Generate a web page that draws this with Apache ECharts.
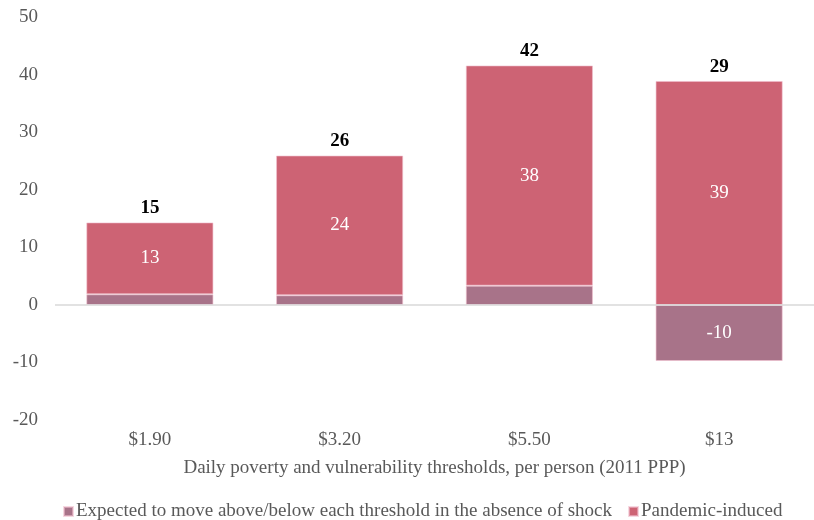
<!DOCTYPE html>
<html><head><meta charset="utf-8">
<script src="https://cdn.jsdelivr.net/npm/echarts@6/dist/echarts.min.js"></script>
<style>html,body{margin:0;padding:0;background:#fff}#c{width:814px;height:520px}</style>
</head><body><div id="c"></div>
<script>
const categories = ['$1.90', '$3.20', '$5.50', '$13'];
const expectedValues = [1.86, 1.69, 3.36, -9.74];
const pandemicValues = [12.5, 24.3, 38.3, 38.96];
const pandemicLabels = ['13', '24', '38', '39'];
const expectedLabels = ['', '', '', '-10'];
const totalLabels = ['15', '26', '42', '29'];
const yTicks = { min: -20, max: 50, interval: 10 };

const FONT = '"Liberation Serif", "Times New Roman", serif';
const FS = 19;
const stackTops = categories.map((c, i) => Math.max(expectedValues[i], 0) + pandemicValues[i]);

const chart = echarts.init(document.getElementById('c'), null, { renderer: 'canvas' });
chart.setOption({
  animation: false,
  textStyle: { fontFamily: FONT },
  grid: { left: 55, right: -10, top: 17.5, bottom: 100, containLabel: false },
  legend: {
    data: ['Expected to move above/below each threshold in the absence of shock', 'Pandemic-induced'],
    left: 58, top: 497,
    itemWidth: 9, itemHeight: 9, itemGap: 16,
    icon: 'rect',
    textStyle: { fontFamily: FONT, fontSize: FS, color: '#595959', padding: [0, 0, 0, -2] }
  },
  xAxis: {
    type: 'category', data: categories,
    axisLine: { show: false }, axisTick: { show: false },
    axisLabel: { fontFamily: FONT, fontSize: FS, color: '#595959', margin: 11 },
    name: 'Daily poverty and vulnerability thresholds, per person (2011 PPP)',
    nameLocation: 'middle', nameGap: 39,
    nameTextStyle: { fontFamily: FONT, fontSize: FS, color: '#595959' }
  },
  yAxis: {
    type: 'value', min: yTicks.min, max: yTicks.max, interval: yTicks.interval,
    splitLine: { show: false },
    axisLine: { show: false }, axisTick: { show: false },
    axisLabel: { fontFamily: FONT, fontSize: FS, color: '#595959', margin: 17 }
  },
  series: [
    {
      name: 'Expected to move above/below each threshold in the absence of shock',
      type: 'bar', stack: 'a', barWidth: '67%',
      itemStyle: { color: '#A87389', borderColor: 'rgba(240,190,205,0.6)', borderWidth: 1 },
      label: {
        show: true, position: 'inside', color: '#fff', fontFamily: FONT, fontSize: FS,
        formatter: p => expectedLabels[p.dataIndex]
      },
      markLine: {
        silent: true, symbol: 'none', label: { show: false },
        lineStyle: { color: '#d9d9d9', type: 'solid', width: 1.5 },
        data: [{ yAxis: 0 }]
      },
      data: expectedValues
    },
    {
      name: 'Pandemic-induced',
      type: 'bar', stack: 'a', barWidth: '67%',
      itemStyle: { color: '#CD6374', borderColor: 'rgba(240,190,205,0.6)', borderWidth: 1 },
      label: {
        show: true, position: 'inside', color: '#fff', fontFamily: FONT, fontSize: FS,
        formatter: p => pandemicLabels[p.dataIndex]
      },
      data: pandemicValues
    },
    {
      name: 'total', type: 'line', data: stackTops,
      symbol: 'rect', symbolSize: 1, showSymbol: true,
      itemStyle: { color: 'rgba(0,0,0,0)' },
      lineStyle: { width: 0, opacity: 0 }, silent: true, z: 10,
      label: {
        show: true, position: 'top', distance: 4, color: '#000', fontWeight: 'bold',
        fontFamily: FONT, fontSize: FS, formatter: p => totalLabels[p.dataIndex]
      }
    }
  ]
});
</script></body></html>
